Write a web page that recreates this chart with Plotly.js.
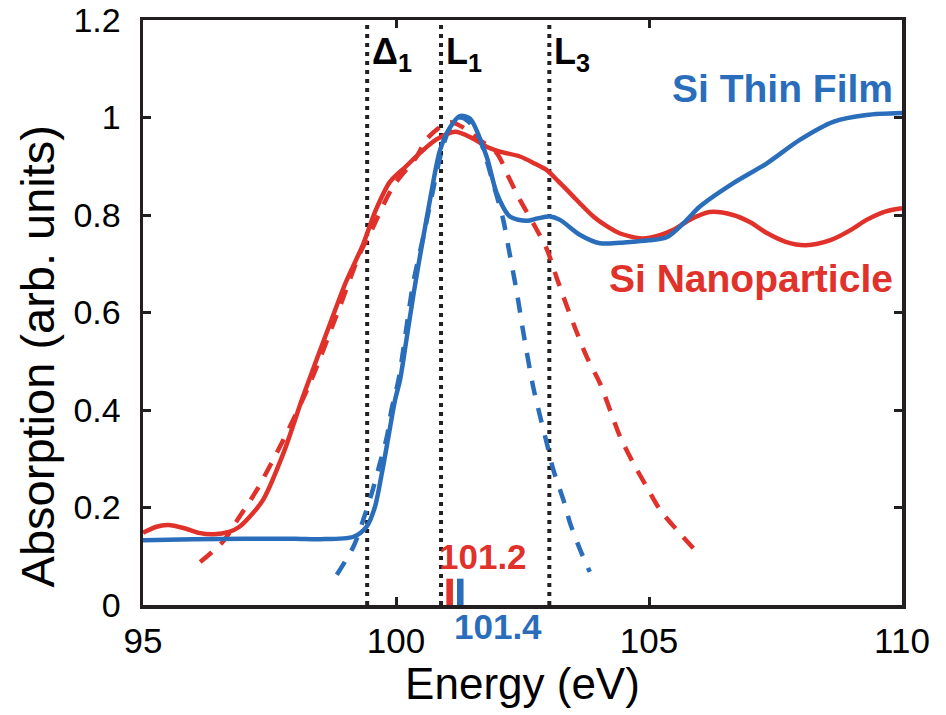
<!DOCTYPE html>
<html>
<head>
<meta charset="utf-8">
<script src="https://cdn.plot.ly/plotly-3.0.1.min.js"></script>
<style>html,body{margin:0;padding:0;background:#fff;}#chart{width:946px;height:715px;}</style>
</head>
<body>
<div id="chart"></div>
<script>
// ---- data ----
var nanoX = [95.0,95.25,95.5,95.8,96.1,96.4,96.7,96.9,97.1,97.37,97.77,98.16,98.7,99.0,99.35,99.6,99.88,100.2,100.47,100.8,101.17,101.5,101.79,102.05,102.45,102.75,102.98,103.2,103.44,103.7,103.9,104.15,104.43,104.86,105.2,105.47,105.8,106.2,106.66,107.0,107.33,107.7,108.1,108.6,109.0,109.3,109.7,110.0];
var nanoY = [0.148,0.160,0.164,0.158,0.148,0.145,0.150,0.160,0.180,0.215,0.310,0.427,0.578,0.660,0.740,0.810,0.868,0.900,0.927,0.955,0.971,0.958,0.940,0.930,0.920,0.905,0.892,0.870,0.845,0.817,0.797,0.778,0.762,0.752,0.758,0.769,0.790,0.806,0.800,0.785,0.763,0.745,0.738,0.749,0.770,0.790,0.808,0.814];

var nanoFitX = [96.13,96.58,96.9,97.25,97.77,98.3,98.89,99.29,99.49,99.94,100.41,100.6,100.93,101.1,101.4,101.6,101.99,102.22,102.45,102.75,102.98,103.18,103.37,103.57,103.77,104.03,104.23,104.43,104.69,104.95,105.22,105.55,105.94];
var nanoFitY = [0.088,0.130,0.180,0.236,0.338,0.455,0.612,0.722,0.763,0.858,0.920,0.955,0.985,0.990,0.975,0.958,0.927,0.879,0.831,0.776,0.730,0.670,0.615,0.560,0.509,0.455,0.400,0.345,0.291,0.243,0.195,0.154,0.109];

var filmX = [95.0,96.0,97.0,98.0,98.5,99.16,99.42,99.58,99.72,99.85,99.98,100.08,100.2,100.35,100.53,100.67,100.87,101.07,101.26,101.46,101.79,101.99,102.25,102.58,102.8,103.04,103.24,103.64,104.03,104.43,104.68,105.0,105.36,105.7,106.0,106.66,107.33,107.98,108.64,109.3,110.0];
var filmY = [0.133,0.135,0.136,0.136,0.135,0.140,0.161,0.200,0.270,0.345,0.420,0.462,0.540,0.640,0.749,0.830,0.933,0.980,1.003,0.998,0.920,0.845,0.797,0.788,0.793,0.797,0.790,0.759,0.742,0.743,0.745,0.748,0.755,0.785,0.817,0.865,0.906,0.954,0.991,1.005,1.009];

var filmFitX = [98.83,99.16,99.35,99.52,99.68,99.82,99.91,100.05,100.34,100.55,100.71,100.9,101.05,101.26,101.45,101.66,101.92,102.12,102.22,102.39,102.52,102.71,102.85,102.98,103.11,103.31,103.44,103.64,103.83];
var filmFitY = [0.062,0.120,0.174,0.229,0.290,0.345,0.400,0.462,0.660,0.760,0.840,0.930,0.975,1.000,0.990,0.954,0.865,0.790,0.735,0.640,0.557,0.448,0.386,0.332,0.277,0.215,0.168,0.113,0.068];

var edgeEnergies = [99.43, 100.89, 103.03];
var edgeLabels = ['Δ<sub>1</sub>', 'L<sub>1</sub>', 'L<sub>3</sub>'];

var onsetX = [101.06, 101.27];      // onset markers (nanoparticle, thin film)
var onsetH = [0.054, 0.054];
var onsetLabels = ['101.2', '101.4'];

var xTicks = [95, 100, 105, 110];
var yTicks = [0, 0.2, 0.4, 0.6, 0.8, 1, 1.2];
var yTickText = ['0', '0.2', '0.4', '0.6', '0.8', '1', '1.2'];

// ---- styles ----
var RED = '#E0312A', BLUE = '#2A6EBB', INK = '#231F20';
var FONT = 'Liberation Sans, Arial, Helvetica, sans-serif';

var traces = [];
edgeEnergies.forEach(function (e) {
  traces.push({x: [e, e], y: [0, 1.2], mode: 'lines', type: 'scatter', hoverinfo: 'skip',
    line: {color: INK, width: 4, dash: '4px,5px'}, showlegend: false});
});
traces.push({x: nanoFitX, y: nanoFitY, mode: 'lines', type: 'scatter', name: 'Si Nanoparticle fit',
  line: {color: RED, width: 4.5, dash: '15px,12px', shape: 'spline', smoothing: 0.8}, showlegend: false});
traces.push({x: filmFitX, y: filmFitY, mode: 'lines', type: 'scatter', name: 'Si Thin Film fit',
  line: {color: BLUE, width: 4.5, dash: '15px,13px', shape: 'spline', smoothing: 0.8}, showlegend: false});
traces.push({x: nanoX, y: nanoY, mode: 'lines', type: 'scatter', name: 'Si Nanoparticle',
  line: {color: RED, width: 4.5, shape: 'spline', smoothing: 0.8}, showlegend: false});
traces.push({x: filmX, y: filmY, mode: 'lines', type: 'scatter', name: 'Si Thin Film',
  line: {color: BLUE, width: 4.5, shape: 'spline', smoothing: 0.8}, showlegend: false});
traces.push({x: [onsetX[0]], y: [onsetH[0]], type: 'bar', width: 0.13, marker: {color: RED, line: {width: 0}}, showlegend: false, hoverinfo: 'skip'});
traces.push({x: [onsetX[1]], y: [onsetH[1]], type: 'bar', width: 0.13, marker: {color: BLUE, line: {width: 0}}, showlegend: false, hoverinfo: 'skip'});

var annotations = [];
edgeEnergies.forEach(function (e, i) {
  annotations.push({x: e, y: 1.13, xref: 'x', yref: 'y', text: '<b>' + edgeLabels[i] + '</b>',
    showarrow: false, xanchor: 'left', yanchor: 'middle', xshift: 3,
    font: {family: FONT, size: 36, color: '#000'}});
});
annotations.push({x: 1, y: 1.06, xref: 'paper', yref: 'y', text: '<b>Si Thin Film</b>', showarrow: false,
  xanchor: 'right', yanchor: 'middle', xshift: -7, font: {family: FONT, size: 39, color: BLUE}});
annotations.push({x: 1, y: 0.67, xref: 'paper', yref: 'y', text: '<b>Si Nanoparticle</b>', showarrow: false,
  xanchor: 'right', yanchor: 'middle', xshift: -7, font: {family: FONT, size: 39, color: RED}});
annotations.push({x: 101.71, y: 0.10, xref: 'x', yref: 'y', text: '<b>' + onsetLabels[0] + '</b>', showarrow: false,
  xanchor: 'center', yanchor: 'middle', font: {family: FONT, size: 35, color: RED}});
annotations.push({x: 102.02, y: -0.036, xref: 'x', yref: 'paper', text: '<b>' + onsetLabels[1] + '</b>', showarrow: false,
  xanchor: 'center', yanchor: 'middle', font: {family: FONT, size: 35, color: BLUE}});
// y-axis title, centred where the reference puts it
annotations.push({x: 0, y: 0.425, xref: 'paper', yref: 'paper', text: 'Absorption (arb. units)', showarrow: false,
  textangle: -90, xanchor: 'center', yanchor: 'middle', xshift: -106, font: {family: FONT, size: 47, color: '#000'}});

var layout = {
  width: 946, height: 715,
  margin: {l: 143, r: 44, t: 20, b: 110, pad: 0},
  paper_bgcolor: '#fff', plot_bgcolor: '#fff',
  showlegend: false, barmode: 'overlay',
  font: {family: FONT, color: '#000'},
  xaxis: {
    range: [95, 110], tickvals: xTicks, ticktext: xTicks.map(String),
    ticks: 'inside', ticklen: 8, tickwidth: 3, tickcolor: INK,
    showline: true, linewidth: 3.5, linecolor: INK, mirror: 'ticks',
    showgrid: false, zeroline: false, ticklabelstandoff: 2,
    tickfont: {family: FONT, size: 35, color: '#000'},
    title: {text: 'Energy (eV)', font: {family: FONT, size: 44, color: '#000'}, standoff: 10},
    automargin: false
  },
  yaxis: {
    range: [0, 1.2], tickvals: yTicks, ticktext: yTickText,
    ticks: 'inside', ticklen: 8, tickwidth: 3, tickcolor: INK,
    showline: true, linewidth: 3.5, linecolor: INK, mirror: 'ticks',
    showgrid: false, zeroline: false, ticklabelstandoff: 12,
    tickfont: {family: FONT, size: 34, color: '#000'},
    automargin: false
  },
  annotations: annotations
};

Plotly.newPlot('chart', traces, layout, {staticPlot: true, displayModeBar: false});
</script>
</body>
</html>
